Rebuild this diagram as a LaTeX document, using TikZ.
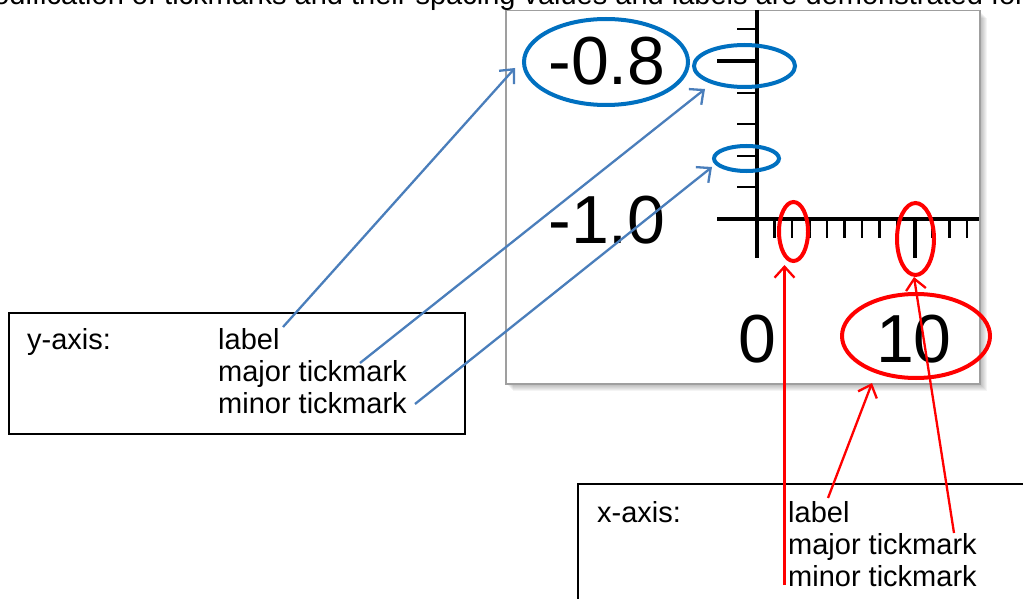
\documentclass[tikz,border=0pt]{standalone}
\usepackage{fontspec}
\setmainfont{Liberation Sans}
\usetikzlibrary{arrows.meta,shapes.geometric}
\definecolor{ellblue}{HTML}{0070C0}
\definecolor{arrblue}{HTML}{4A7EBB}
\definecolor{myred}{HTML}{FF0000}
\begin{document}
\begin{tikzpicture}[x=1pt,y=-1pt,
  txt/.style={inner sep=0pt, anchor=base west, font=\fontsize{29}{32}\selectfont},
  ticklab/.style={inner sep=0pt, anchor=base, font=\fontsize{68}{70}\selectfont},
  blueell/.style={draw=ellblue, line width=4pt, ellipse, inner sep=0pt},
  redell/.style={draw=myred, line width=4pt, ellipse, inner sep=0pt},
  bluearr/.style={draw=arrblue, line width=2.3pt, -{Straight Barb[length=11pt,width=20pt]}},
  redarr/.style={draw=myred, line width=2.3pt, -{Straight Barb[length=11pt,width=20pt]}},
  axisline/.style={line width=4pt},
  minortick/.style={line width=2.7pt},
  majortick/.style={line width=4pt},
  boxstyle/.style={draw, line width=1.5pt, inner sep=0pt, anchor=north west},
]
\useasboundingbox (0,0) rectangle (1023,599);
\clip (0,0) rectangle (1023,599);

% title (cut at top)
\node[txt] (title) at (-31,5) {Modification of tickmarks and their spacing values and labels are demonstrated for};

% plot frame with shadow
\foreach \i in {1,...,8}
  \fill[black, opacity=0.045] (505+\i,10+\i) rectangle (979+\i,383+\i);
\node[draw=gray!75, line width=1.5pt, fill=white, inner sep=0pt,
      minimum width=474pt, minimum height=373pt, anchor=north west] (frame) at (505,10) {};

% axes
\draw[axisline] (757,10) -- (757,258);
\draw[axisline] (717,219) -- (979,219);
% y ticks
\draw[majortick] (717,61) -- (757,61);
\foreach \y in {29,93,124,156,187}
  \draw[minortick] (737,\y) -- (757,\y);
% x ticks
\foreach \k in {1,2,3,4,5,6,7,8,10,11,12}
  \draw[minortick] (757+17.5*\k,219) -- (757+17.5*\k,238);
\draw[majortick] (914.5,219) -- (914.5,258);

% tick labels
\node[ticklab] (ym08) at (607,85) {-0.8};
\node[ticklab] (ym10) at (607,243) {-1.0};
\node[ticklab] (x0) at (757,362) {0};
\node[ticklab] (x10) at (914,362) {10};

% highlight ellipses
\node[blueell, minimum width=164pt, minimum height=86pt] (e08) at (606,62) {};
\node[blueell, minimum width=101pt, minimum height=42pt] (emaj) at (744.5,66) {};
\node[blueell, minimum width=65pt, minimum height=25pt] (emin) at (746.5,158.5) {};
\node[redell, minimum width=29pt, minimum height=59pt] (rmin) at (793.5,231.5) {};
\node[redell, minimum width=37pt, minimum height=72pt] (rmaj) at (915.5,239) {};
\node[redell, minimum width=148pt, minimum height=84pt] (r10) at (916,336) {};

% y-axis legend box
\node[boxstyle, minimum width=456pt, minimum height=121pt] (ybox) at (8,312) {};
\node[txt] (yax) at (27,349) {y-axis:};
\node[txt] (ylab) at (218,349) {label};
\node[txt] (ymaj) at (218,381) {major tickmark};
\node[txt] (ymin) at (218,413) {minor tickmark};

% x-axis legend box
\node[boxstyle, minimum width=460pt, minimum height=130pt] (xbox) at (577,483) {};
\node[txt] (xax) at (597,522) {x-axis:};
\node[txt] (xlab) at (788,522) {label};
\node[txt] (xmaj) at (788,554) {major tickmark};
\node[txt] (xmin) at (788,586) {minor tickmark};

% arrow end coordinates
\coordinate (b1s) at (283,327);
\coordinate (b1t) at (515,68);
\coordinate (b2s) at (360,363);
\coordinate (b2t) at (705,89);
\coordinate (b3s) at (415,404);
\coordinate (b3t) at (712,167);
\coordinate (r1s) at (784.5,585);
\coordinate (r1t) at (784.5,265);
\coordinate (r2s) at (954,533);
\coordinate (r2t) at (914,277);
\coordinate (r3s) at (828,498);
\coordinate (r3t) at (872,383);

% arrows
\draw[bluearr] (b1s) -- (b1t);
\draw[bluearr] (b2s) -- (b2t);
\draw[bluearr] (b3s) -- (b3t);
\draw[redarr] (r1s) -- (r1t);
\draw[redarr] (r2s) -- (r2t);
\draw[redarr] (r3s) -- (r3t);
\end{tikzpicture}
\end{document}
